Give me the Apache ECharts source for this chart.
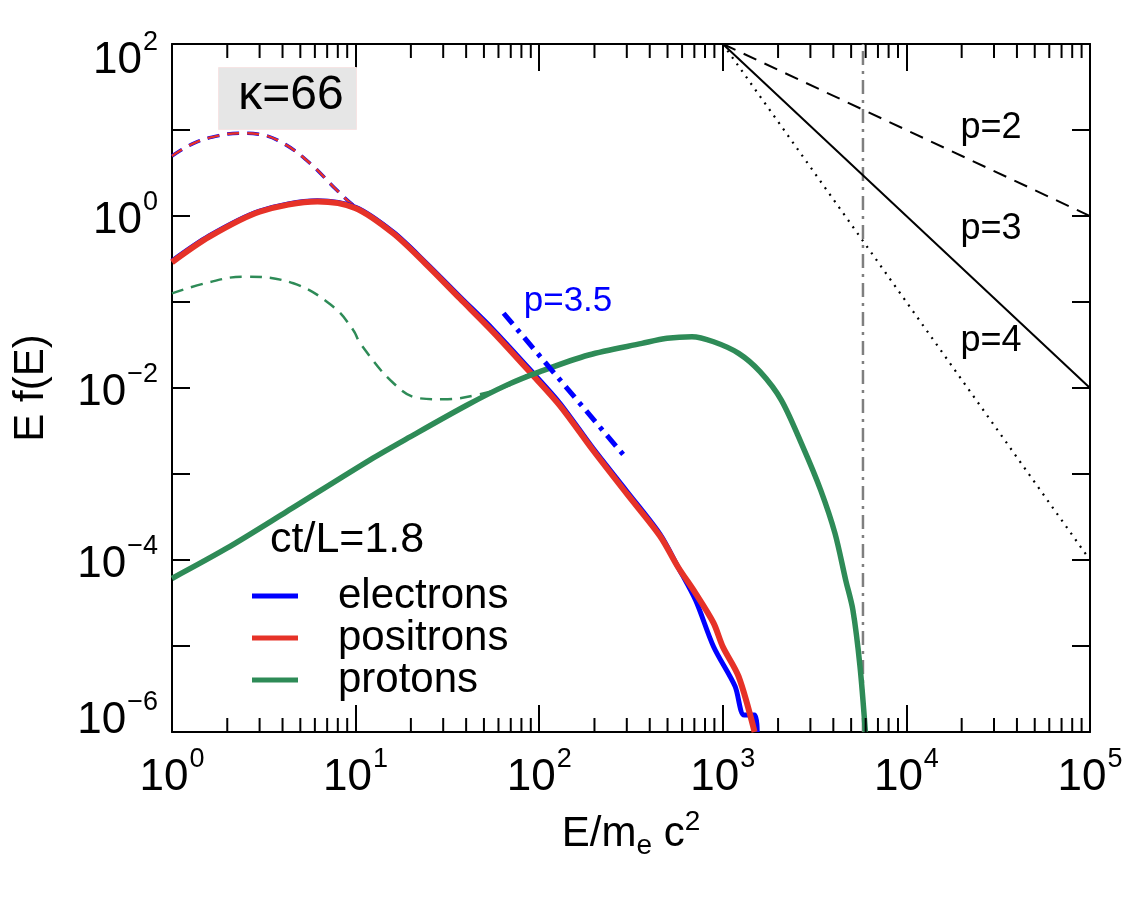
<!DOCTYPE html>
<html>
<head>
<meta charset="utf-8">
<script src="https://cdn.jsdelivr.net/npm/echarts@6/dist/echarts.min.js"></script>
<style>
  html, body { margin: 0; padding: 0; background: #fff; }
  #chart { width: 1146px; height: 917px; }
</style>
</head>
<body>
<div id="chart"></div>
<script>
// axis ranges
const xMin = 1, xMax = 1e5
const yMin = 1e-6, yMax = 1e2
const minorMantissas = [2, 3, 4, 5, 6, 7, 8, 9]
const decades = [1, 10, 100, 1000, 10000]

// electrons / positrons at ct/L=1.8 (solid)
const posE = [1, 1.6, 3, 6.2, 10, 16, 24, 37, 56, 92, 130, 196, 300, 455, 570, 711, 890, 1000, 1220, 1490]
const posF = [0.29, 0.575, 1.12, 1.47, 1.23, 0.63, 0.28, 0.11, 0.045, 0.0142, 0.0062, 0.0019, 5.9e-4, 1.9e-4, 8.3e-5, 4.1e-5, 1.86e-5, 9.8e-6, 4.4e-6, 1e-6]
const eleE = [1, 1.6, 3, 6.2, 10, 16, 24, 37, 56, 92, 130, 196, 300, 455, 570, 711, 891, 1166, 1306, 1490, 1540]
const eleF = [0.3, 0.59, 1.14, 1.5, 1.26, 0.65, 0.29, 0.115, 0.048, 0.0152, 0.0066, 0.002, 6.3e-4, 2.0e-4, 8.3e-5, 3.4e-5, 9.8e-6, 3.4e-6, 1.58e-6, 1.58e-6, 1e-6]

// initial electrons / positrons (dashed)
const initE = [1, 1.31, 1.8, 2.35, 3, 4.04, 5.65, 7.89, 9.7, 12, 16, 24, 37, 56, 92, 196, 455]
const initF = [4.99, 7.0, 8.6, 9.17, 8.9, 7.0, 4.1, 2.0, 1.34, 1.0, 0.66, 0.29, 0.113, 0.046, 0.0146, 0.002, 1.95e-4]

// protons at ct/L=1.8 (solid)
const proE = [1, 1.99, 4.21, 12, 19.8, 40.3, 66.5, 101, 186, 363, 497, 679, 891, 1220, 1595, 2083, 2730, 3413, 4084, 4670, 5110, 5590, 5980]
const proF = [6.1e-5, 1.37e-4, 3.65e-4, 1.46e-3, 2.7e-3, 6.3e-3, 0.0108, 0.0155, 0.0242, 0.033, 0.0378, 0.0395, 0.0345, 0.0253, 0.0155, 7.24e-3, 2.07e-3, 6.5e-4, 2.04e-4, 5.85e-5, 2.63e-5, 5.75e-6, 1e-6]

// initial protons (dashed)
const proInitE = [1, 1.6, 2.44, 4.58, 7.56, 9.72, 10.6, 16.1, 22.4, 30, 45.7, 69.3, 85.5]
const proInitF = [0.126, 0.17, 0.197, 0.165, 0.088, 0.047, 0.033, 0.01135, 7.58e-3, 7.4e-3, 8.3e-3, 0.0108, 0.0142]

// p=3.5 guide
const fitE = [64, 300]
const fitF = [0.074, 1.5e-3]

// reference slopes from (1e3, 1e2)
const refE = [1e3, 1e5]
const refP2 = [100, 1]
const refP3 = [100, 1e-2]
const refP4 = [100, 1e-4]

// vertical cut-off
const cutE = [5800, 5800]
const cutF = [yMin, yMax]

const xMinorTicks = []
decades.forEach(d => minorMantissas.forEach(m => xMinorTicks.push(d * m)))

const pairs = (xs, ys) => xs.map((x, i) => [x, ys[i]])

const FONT = '"Liberation Sans", Arial, Helvetica, sans-serif'
const BLUE = '#0000ff'
const RED = '#e63228'
const GREEN = '#2e8b57'

const chart = echarts.init(document.getElementById('chart'))

const expStr = v => {
  const e = Math.round(Math.log10(v))
  return (e < 0 ? '\u2212' : '') + Math.abs(e)
}

const labelRich = {
  b: { fontSize: 44, fontFamily: FONT, color: '#000', lineHeight: 54, verticalAlign: 'bottom' },
  s: { fontSize: 27, fontFamily: FONT, color: '#000', lineHeight: 27, verticalAlign: 'top', padding: [0, 0, 0, 1] },
  gapT: { lineHeight: 24, fontSize: 10 },
  gapB: { lineHeight: 32, fontSize: 10 }
}

const lineSeries = (name, xs, ys, color, width, type, z, smooth) => ({
  name: name,
  type: 'line',
  data: pairs(xs, ys),
  showSymbol: false,
  symbol: 'none',
  smooth: smooth || false,
  lineStyle: { color: color, width: width, type: type },
  itemStyle: { color: color },
  z: z,
  silent: true
})

const option = {
  animation: false,
  backgroundColor: '#fff',
  grid: { left: 172, top: 44, right: 56, bottom: 185 },
  legend: {
    data: ['electrons', 'positrons', 'protons'],
    orient: 'vertical',
    left: 252,
    top: 575,
    padding: 0,
    itemGap: 0,
    itemWidth: 46,
    itemHeight: 5,
    icon: 'rect',
    textStyle: { fontSize: 42, fontFamily: FONT, color: '#000', lineHeight: 42, padding: [0, 0, 0, 35] }
  },
  xAxis: [
    {
      type: 'log', min: xMin, max: xMax, splitNumber: 5, position: 'bottom',
      axisLine: { lineStyle: { color: '#000', width: 2 } },
      axisTick: { inside: true, length: 27, lineStyle: { color: '#000', width: 2 } },
      splitLine: { show: false },
      axisLabel: {
        margin: 14,
        formatter: v => '{b|10}{s|' + expStr(v) + '}',
        rich: labelRich
      },
      name: 'E/m{sub|e} c{sup|2}',
      nameLocation: 'middle',
      nameGap: 76,
      nameTextStyle: {
        fontSize: 42, fontFamily: FONT, color: '#000',
        rich: {
          sub: { fontSize: 28, fontFamily: FONT, color: '#000', verticalAlign: 'bottom', padding: [24, 0, 0, 0] },
          sup: { fontSize: 28, fontFamily: FONT, color: '#000', verticalAlign: 'top', padding: [0, 0, 20, 0] }
        }
      }
    },
    {
      type: 'log', min: xMin, max: xMax, splitNumber: 5, position: 'top',
      axisLine: { lineStyle: { color: '#000', width: 2 } },
      axisTick: { inside: true, length: 27, lineStyle: { color: '#000', width: 2 } },
      splitLine: { show: false },
      axisLabel: { show: false }
    }
  ],
  yAxis: [
    {
      type: 'log', min: yMin, max: yMax, splitNumber: 8, position: 'left',
      axisLine: { lineStyle: { color: '#000', width: 2 } },
      axisTick: { inside: true, length: 18, lineStyle: { color: '#000', width: 2 } },
      splitLine: { show: false },
      axisLabel: {
        margin: 14,
        formatter: v => {
          const e = Math.round(Math.log10(v))
          if (e % 2 !== 0) return ''
          const t = '{b|10}{s|' + expStr(v) + '}'
          if (e === 2) return '{gapT| }\n' + t
          if (e === -6) return t + '\n{gapB| }'
          return t
        },
        rich: labelRich
      },
      name: 'E f(E)',
      nameLocation: 'middle',
      nameRotate: 90,
      nameGap: 120,
      nameTextStyle: { fontSize: 42, fontFamily: FONT, color: '#000' }
    },
    {
      type: 'log', min: yMin, max: yMax, splitNumber: 8, position: 'right',
      axisLine: { lineStyle: { color: '#000', width: 2 } },
      axisTick: { inside: true, length: 18, lineStyle: { color: '#000', width: 2 } },
      splitLine: { show: false },
      axisLabel: { show: false }
    }
  ],
  graphic: [
    {
      type: 'rect', left: 218, top: 67, z: 50,
      shape: { width: 138, height: 62 },
      style: { fill: '#e6e6e6', stroke: '#f6e4e4', lineWidth: 1 }
    },
    {
      type: 'text', x: 291, y: 96, z: 51,
      style: { text: '\u03ba=66', font: '48px ' + FONT, fill: '#000', textAlign: 'center', textVerticalAlign: 'middle' }
    },
    {
      type: 'text', x: 568, y: 301, z: 51,
      style: { text: 'p=3.5', font: '35px ' + FONT, fill: BLUE, textAlign: 'center', textVerticalAlign: 'middle' }
    },
    {
      type: 'text', x: 991, y: 128, z: 51,
      style: { text: 'p=2', font: '36px ' + FONT, fill: '#000', textAlign: 'center', textVerticalAlign: 'middle' }
    },
    {
      type: 'text', x: 991, y: 229, z: 51,
      style: { text: 'p=3', font: '36px ' + FONT, fill: '#000', textAlign: 'center', textVerticalAlign: 'middle' }
    },
    {
      type: 'text', x: 991, y: 341, z: 51,
      style: { text: 'p=4', font: '36px ' + FONT, fill: '#000', textAlign: 'center', textVerticalAlign: 'middle' }
    },
    {
      type: 'text', x: 270, y: 540, z: 51,
      style: { text: 'ct/L=1.8', font: '43px ' + FONT, fill: '#000', textAlign: 'left', textVerticalAlign: 'middle' }
    }
  ],
  series: [
    lineSeries('cut', cutE, cutF, '#7f7f7f', 2.5, [14, 6, 3, 6], 1),
    lineSeries('p=2', refE, refP2, '#000', 2, [14, 9], 2),
    lineSeries('p=3', refE, refP3, '#000', 2, 'solid', 2),
    lineSeries('p=4', refE, refP4, '#000', 2.2, [2, 6], 2),
    lineSeries('protons t0', proInitE, proInitF, GREEN, 2.5, [12, 8], 3, 0.4),
    lineSeries('electrons t0', initE, initF, BLUE, 3.5, [12, 8], 3, 0.4),
    lineSeries('positrons t0', initE, initF, RED, 2.5, [12, 8], 3, 0.4),
    lineSeries('electrons', eleE, eleF, BLUE, 5, 'solid', 4, 0.3),
    lineSeries('positrons', posE, posF, RED, 6, 'solid', 5, 0.3),
    lineSeries('protons', proE, proF, GREEN, 5.5, 'solid', 6, 0.3),
    lineSeries('p=3.5 fit', fitE, fitF, BLUE, 5, [14, 7, 4, 7], 7),
    {
      type: 'custom',
      name: 'minor ticks',
      silent: true,
      z: 20,
      data: xMinorTicks.map(v => [v]),
      encode: { x: 0 },
      renderItem: (params, api) => {
        const v = api.value(0)
        const b = api.coord([v, yMin])
        const t = api.coord([v, yMax])
        return {
          type: 'group',
          children: [
            { type: 'line', shape: { x1: b[0], y1: b[1], x2: b[0], y2: b[1] - 14 }, style: { stroke: '#000', lineWidth: 2 } },
            { type: 'line', shape: { x1: t[0], y1: t[1], x2: t[0], y2: t[1] + 14 }, style: { stroke: '#000', lineWidth: 2 } }
          ]
        }
      }
    }
  ]
}

chart.setOption(option)
</script>
</body>
</html>
